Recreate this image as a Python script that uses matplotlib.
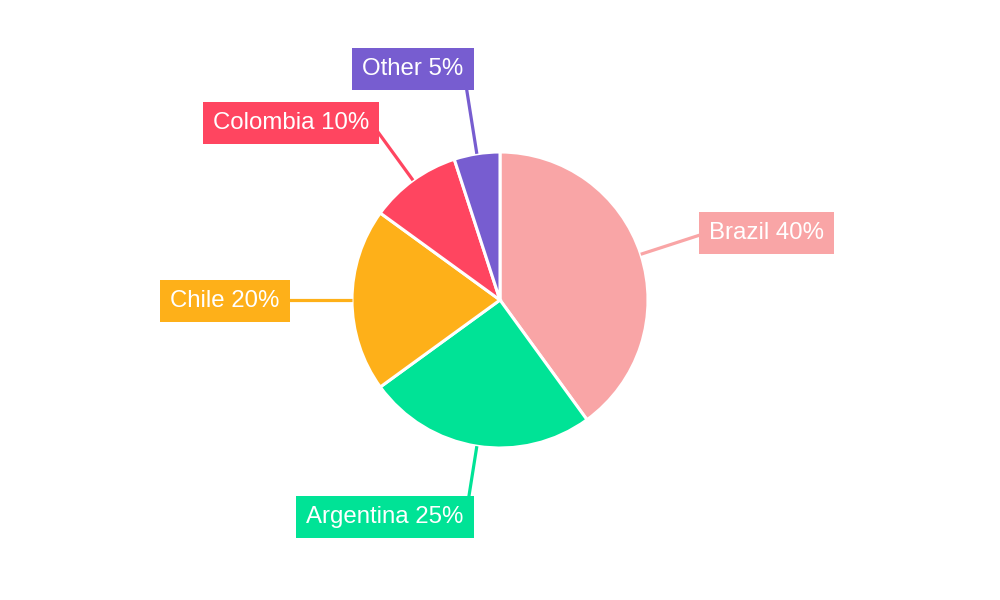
import numpy as np
import matplotlib
matplotlib.use('Agg')
import matplotlib.pyplot as plt

countries = ['Brazil', 'Argentina', 'Chile', 'Colombia', 'Other']
shares = [40, 25, 20, 10, 5]
colors = ['#F9A5A6', '#00E396', '#FEB019', '#FF4560', '#775DD0']

# label box centres (pixel coords, y measured from bottom)
label_pos = [(766.5, 367), (385, 83), (225, 299), (291, 477), (413, 531)]

cx, cy, r = 500, 300, 148

fig = plt.figure(figsize=(10, 6), dpi=100)
ax = fig.add_axes([0, 0, 1, 1])

wedges, _ = ax.pie(shares, colors=colors, startangle=90, counterclock=False,
                   center=(cx, cy), radius=r,
                   wedgeprops=dict(edgecolor='white', linewidth=2.2))
ax.set_xlim(0, 1000)
ax.set_ylim(0, 600)
ax.set_aspect('auto')
ax.axis('off')

for w, name, val, col, (tx, ty) in zip(wedges, countries, shares, colors, label_pos):
    mid = np.deg2rad((w.theta1 + w.theta2) / 2)
    d = np.array([np.cos(mid), np.sin(mid)])
    p0 = np.array([cx, cy]) + d * r
    p1 = np.array([cx, cy]) + d * (r + 80)
    ax.plot([p0[0], p1[0]], [p0[1], p1[1]], color=col, lw=2.3, zorder=1,
            solid_capstyle='butt')
    ax.text(tx, ty, f'{name} {val}%', ha='center', va='center', color='white',
            fontsize=17.3, family='Liberation Sans', zorder=5,
            bbox=dict(boxstyle='square,pad=0.42', fc=col, ec='none'))

fig.savefig('out.png', dpi=100)
